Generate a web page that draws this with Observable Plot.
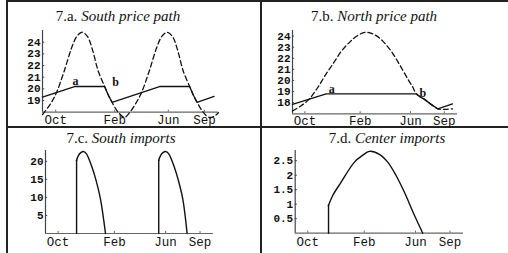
<!DOCTYPE html>
<html><head><meta charset="utf-8">
<script src="https://cdn.jsdelivr.net/npm/d3@7"></script>
<script src="https://cdn.jsdelivr.net/npm/@observablehq/plot@0.6"></script>
<style>
html,body{margin:0;padding:0;background:#fff;}
#wrap{position:relative;width:508px;height:253px;overflow:hidden;background:#fff;}
.ln{position:absolute;background:#222;}
.title{position:absolute;font-family:"Liberation Serif","DejaVu Serif",serif;font-size:15px;line-height:15px;color:#111;white-space:nowrap;transform:translateX(-50%);}
.title i{font-style:italic;}
.panel{position:absolute;}
.panel svg{overflow:visible;background:transparent !important;}
</style></head><body>
<div id="wrap">
  <div class="ln" style="left:6px;top:0;width:502px;height:2px"></div>
  <div class="ln" style="left:6px;top:0;width:2px;height:253px"></div>
  <div class="ln" style="left:260px;top:0;width:2px;height:253px"></div>
  <div class="ln" style="left:6px;top:126px;width:502px;height:2px"></div>
  <div class="title" style="left:118px;top:9px">7.a. <i>South price path</i></div>
  <div class="title" style="left:374px;top:9px">7.b. <i>North price path</i></div>
  <div class="title" style="left:121px;top:131px">7.c. <i>South imports</i></div>
  <div class="title" style="left:387px;top:131px">7.d. <i>Center imports</i></div>
  <div class="panel" id="pa" style="left:8px;top:2px"></div>
  <div class="panel" id="pb" style="left:262px;top:2px"></div>
  <div class="panel" id="pc" style="left:8px;top:128px"></div>
  <div class="panel" id="pd" style="left:262px;top:128px"></div>
</div>
<script>
// shared time axis
const xTickValues = [7.5, 41, 71.5, 92];
const xTickLabels = ["Oct", "Feb", "Jun", "Sep"];

// 7.a South price path
const southDashT = [0, 4.5, 8, 12.5, 16.5, 19.5, 22.5, 25.5, 28.5, 31.5, 35.3, 37.3, 39.5, 43, 46.5, 48.3, 52.8, 56.3, 60.8, 64.8, 67.8, 70.8, 73.8, 76.8, 79.8, 83.6, 85.6, 87.8, 91.3, 94.8, 98, 100];
const southDashP = [17.8, 18.7, 19.7, 21.6, 23.5, 24.5, 24.85, 24.5, 23.3, 21.6, 20.2, 19.5, 18.85, 18.0, 17.55, 17.75, 18.7, 19.7, 21.6, 23.5, 24.5, 24.85, 24.5, 23.3, 21.6, 20.2, 19.5, 18.85, 18.0, 17.55, 17.7, 17.95];
const southSolidT = [0, 18.2, 35.3, 37.3, 39.5, 66.5, 83.6, 85.6, 87.8, 97.5];
const southSolidP = [19.3, 20.2, 20.2, 19.5, 18.85, 20.2, 20.2, 19.5, 18.85, 19.35];
const southLabelT = [18.75, 41.5];
const southLabelP = [20.7, 20.56];
const southYTicks = [19, 20, 21, 22, 23, 24];

// 7.b North price path
const northDashT = [0, 5, 10, 15, 20, 25, 30, 35, 40, 44.6, 50, 55, 60, 65, 70, 72.9, 75, 78, 80, 84, 88, 92, 97];
const northDashP = [17.25, 17.7, 18.3, 19.3, 20.5, 21.6, 22.7, 23.5, 24.1, 24.35, 24.1, 23.5, 22.6, 21.4, 20.1, 19.4, 18.8, 18.5, 18.3, 17.85, 17.45, 17.4, 17.45];
const northSolidT = [0, 20.4, 75, 77, 80, 84, 88, 97];
const northSolidP = [17.85, 18.8, 18.8, 18.55, 18.3, 17.85, 17.45, 17.9];
const northLabelT = [23.8, 79];
const northLabelP = [19.25, 18.86];
const northYTicks = [18, 19, 20, 21, 22, 23, 24];

const labelText = ["a", "b"];

// 7.c South imports (two humps)
const southImpT    = [18.5, 18.5, 19.5, 21, 22.8, 24.5, 25.8, 27.8, 29.8, 32.7, 35.7, 67.4, 67.4, 68.4, 69.9, 71.8, 73.5, 74.8, 76.8, 78.8, 81.7, 84.3];
const southImpV    = [0, 20.3, 21.5, 22.4, 22.7, 22.0, 20.7, 18.2, 15.2, 9.6, 0, 0, 20.3, 21.5, 22.4, 22.7, 22.0, 20.7, 18.2, 15.2, 9.6, 0];
const southImpHump = [1, 1, 1, 1, 1, 1, 1, 1, 1, 1, 1, 2, 2, 2, 2, 2, 2, 2, 2, 2, 2, 2];
const southImpYTicks = [5, 10, 15, 20];

// 7.d Center imports
const centerImpT = [19.8, 19.8, 22.3, 27.3, 35.2, 40, 44.1, 50, 55, 60, 64.9, 70.9, 75.8];
const centerImpV = [0, 0.96, 1.3, 1.76, 2.45, 2.68, 2.82, 2.72, 2.45, 1.98, 1.41, 0.61, 0];
const centerImpYTicks = [0.5, 1, 1.5, 2, 2.5];

const mono = "Liberation Mono, DejaVu Sans Mono, monospace";
const serif = "Liberation Serif, DejaVu Serif, serif";

function panel({el, width, height, ml, mr, mt, mb, yDomain, yTicks, xPad, marks}) {
  const xDomain = [0, 100];
  const yLen = yDomain[1] - yDomain[0];
  const chart = Plot.plot({
    width, height,
    marginLeft: ml, marginRight: mr, marginTop: mt, marginBottom: mb,
    style: {background: "transparent", overflow: "visible"},
    x: {domain: xDomain},
    y: {domain: yDomain},
    marks: [
      Plot.ruleY([yDomain[0]], {stroke: "#666", strokeWidth: 1.2}),
      Plot.ruleX([xDomain[0]], {stroke: "#444", strokeWidth: 1.2}),
      Plot.ruleX(xTickValues, {x: d => d, y1: yDomain[0], y2: yDomain[0] + yLen * 0.025, stroke: "#666"}),
      Plot.ruleY(yTicks, {y: d => d, x1: xDomain[0], x2: xDomain[0] + 1.3, stroke: "#444"}),
      Plot.axisX({ticks: xTickValues, tickFormat: d => xTickLabels[xTickValues.indexOf(d)], tickSize: 0, tickPadding: xPad, label: null, fontFamily: mono, fontSize: 12.5, fill: "#111"}),
      Plot.axisY({ticks: yTicks, tickFormat: d => String(d), tickSize: 0, tickPadding: 2, label: null, fontFamily: mono, fontSize: 11, fontWeight: "bold", fill: "#111"}),
      ...marks
    ]
  });
  document.getElementById(el).appendChild(chart);
}

const southDash = southDashT.map((t, i) => ({t, p: southDashP[i]}));
const southSolid = southSolidT.map((t, i) => ({t, p: southSolidP[i]}));
const southLabels = southLabelT.map((t, i) => ({t, p: southLabelP[i], s: labelText[i]}));
const northDash = northDashT.map((t, i) => ({t, p: northDashP[i]}));
const northSolid = northSolidT.map((t, i) => ({t, p: northSolidP[i]}));
const northLabels = northLabelT.map((t, i) => ({t, p: northLabelP[i], s: labelText[i]}));
const southImp = southImpT.map((t, i) => ({t, v: southImpV[i], h: southImpHump[i]}));
const centerImp = centerImpT.map((t, i) => ({t, v: centerImpV[i]}));

// split each import path into its vertical jump (straight) and its smooth arc
const southJump = southImp.filter((d, i) => i === 0 || southImp[i - 1].h !== d.h || (i > 0 && southImp[i - 1].t === d.t));
const southArc = southImp.filter((d, i) => !(i + 1 < southImp.length && southImp[i + 1].t === d.t && southImp[i + 1].h === d.h));
const centerJump = centerImp.slice(0, 2);
const centerArc = centerImp.slice(1);

panel({el: "pa", width: 252, height: 124, ml: 34, mr: 42, mt: 28, mb: 14.3, yDomain: [18, 25], yTicks: southYTicks, xPad: 3, marks: [
  Plot.line(southDash, {x: "t", y: "p", curve: "catmull-rom", stroke: "#111", strokeWidth: 1.3, strokeDasharray: "5,3"}),
  Plot.line(southSolid, {x: "t", y: "p", stroke: "#111", strokeWidth: 1.3}),
  Plot.text(southLabels, {x: "t", y: "p", text: "s", fontFamily: serif, fontSize: 12, fontWeight: "bold", fill: "#111"})
]});

panel({el: "pb", width: 246, height: 124, ml: 30, mr: 51, mt: 28, mb: 12.7, yDomain: [17, 24.5], yTicks: northYTicks, xPad: 2, marks: [
  Plot.line(northDash, {x: "t", y: "p", curve: "catmull-rom", stroke: "#111", strokeWidth: 1.3, strokeDasharray: "5,3"}),
  Plot.line(northSolid, {x: "t", y: "p", stroke: "#111", strokeWidth: 1.3}),
  Plot.text(northLabels, {x: "t", y: "p", text: "s", fontFamily: serif, fontSize: 12, fontWeight: "bold", fill: "#111"})
]});

panel({el: "pc", width: 252, height: 125, ml: 37, mr: 47, mt: 22, mb: 20, yDomain: [0, 23], yTicks: southImpYTicks, xPad: 4, marks: [
  Plot.line(southJump, {x: "t", y: "v", z: "h", stroke: "#111", strokeWidth: 1.4}),
  Plot.line(southArc, {x: "t", y: "v", z: "h", curve: "catmull-rom", stroke: "#111", strokeWidth: 1.4})
]});

panel({el: "pd", width: 246, height: 125, ml: 32.7, mr: 45, mt: 22, mb: 20.3, yDomain: [0, 2.85], yTicks: centerImpYTicks, xPad: 4, marks: [
  Plot.line(centerJump, {x: "t", y: "v", stroke: "#111", strokeWidth: 1.4}),
  Plot.line(centerArc, {x: "t", y: "v", curve: "catmull-rom", stroke: "#111", strokeWidth: 1.4})
]});
</script>
</body></html>
